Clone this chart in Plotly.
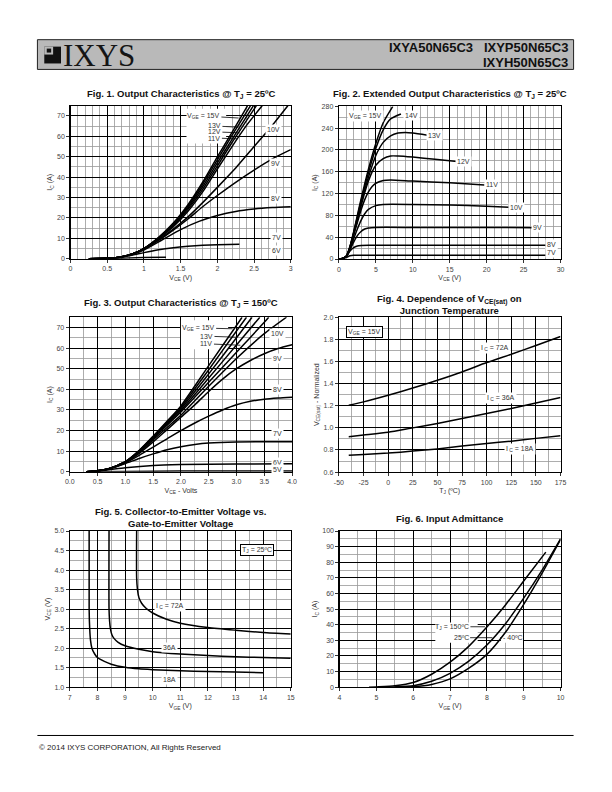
import plotly.graph_objects as go

W, H = 612, 792

# ---------------- DATA ----------------
# Fig 1: Output characteristics @ 25C  (VCE [V], IC [A])
f1_vce_15 = [0.25, 0.5, 0.7, 0.85, 1.0, 1.2, 1.4, 1.6, 1.8, 2.0, 2.2, 2.41]
f1_ic_15 = [0, 0.2, 1.0, 2.5, 5.0, 10.5, 17.5, 26.5, 37.5, 50, 62, 75]
f1_vce_14 = [0.25, 0.5, 0.7, 0.85, 1.0, 1.2, 1.4, 1.6, 1.8, 2.0, 2.2, 2.45]
f1_ic_14 = [0, 0.2, 1.0, 2.5, 5.0, 10.3, 17, 25.8, 36.5, 48.5, 60.5, 75]
f1_vce_13 = [0.25, 0.5, 0.7, 0.85, 1.0, 1.2, 1.4, 1.6, 1.8, 2.0, 2.2, 2.49]
f1_ic_13 = [0, 0.2, 1.0, 2.5, 5.0, 10.1, 16.6, 25, 35.3, 47, 58.5, 75]
f1_vce_12 = [0.25, 0.5, 0.7, 0.85, 1.0, 1.2, 1.4, 1.6, 1.8, 2.0, 2.2, 2.53]
f1_ic_12 = [0, 0.2, 1.0, 2.5, 5.0, 10, 16.2, 24.2, 34, 45.5, 57, 75]
f1_vce_11 = [0.25, 0.5, 0.7, 0.85, 1.0, 1.2, 1.4, 1.6, 1.8, 2.0, 2.2, 2.4, 2.61]
f1_ic_11 = [0, 0.2, 1.0, 2.5, 5.0, 9.8, 15.7, 23.3, 32.8, 44, 55, 65.5, 75]
f1_vce_10 = [0.25, 0.5, 0.7, 0.85, 1.0, 1.2, 1.4, 1.6, 1.8, 2.0, 2.25, 2.5, 2.75, 2.96]
f1_ic_10 = [0, 0.2, 1.0, 2.4, 4.9, 9.3, 14.5, 20.5, 27.5, 35, 44.5, 55, 65.5, 75]
f1_vce_9 = [0.25, 0.5, 0.7, 0.85, 1.0, 1.2, 1.4, 1.6, 1.8, 2.0, 2.25, 2.5, 2.75, 3.0]
f1_ic_9 = [0, 0.2, 1.0, 2.4, 4.8, 9.0, 14, 19.5, 25.5, 31, 37.5, 43.5, 49, 53.5]
f1_vce_8 = [0.25, 0.5, 0.7, 0.85, 1.0, 1.25, 1.5, 1.75, 2.0, 2.25, 2.5, 2.75, 3.0]
f1_ic_8 = [0, 0.2, 0.9, 2.2, 4.3, 9.3, 14.3, 18.3, 21.2, 23.2, 24.4, 25.1, 25.5]
f1_vce_7 = [0.25, 0.5, 0.7, 0.85, 1.0, 1.2, 1.4, 1.6, 1.8, 2.0, 2.3]
f1_ic_7 = [0, 0.2, 0.8, 1.8, 3.0, 4.4, 5.4, 6.1, 6.6, 6.9, 7.1]
f1_vce_6 = [0.25, 0.6, 0.8, 1.0, 1.3]
f1_ic_6 = [0, 0.2, 0.4, 0.55, 0.7]

# Fig 2: Extended output characteristics @ 25C
f2_vce_15 = [0, 0.5, 1, 1.5, 2, 2.5, 3, 4, 5, 6, 7.3]
f2_ic_15 = [0, 1, 5, 23, 50, 80, 110, 165, 212, 250, 280]
f2_vce_14 = [0, 0.5, 1, 1.5, 2, 2.5, 3, 4, 5, 6, 7, 8.4]
f2_ic_14 = [0, 1, 5, 22.5, 48.5, 77, 106, 158, 203, 237, 257, 266]
f2_vce_13 = [0, 0.5, 1, 1.5, 2, 2.5, 3, 4, 5, 6, 7, 8, 9, 10, 12]
f2_ic_13 = [0, 1, 5, 22, 47, 74, 102, 150, 190, 214, 226, 231, 232, 231, 227]
f2_vce_12 = [0, 0.5, 1, 1.5, 2, 2.5, 3, 3.5, 4, 4.5, 5, 6, 7, 8, 10, 13, 16]
f2_ic_12 = [0, 1, 5, 21, 45.5, 71, 97, 122, 143, 160, 172, 184, 189, 189, 187, 183, 179]
f2_vce_11 = [0, 0.5, 1, 1.5, 2, 2.5, 3, 3.5, 4, 4.5, 5, 6, 7, 10, 15, 19.7]
f2_ic_11 = [0, 1, 5, 20, 44, 67, 90, 109, 123, 133, 139, 144, 145, 143, 140, 136]
f2_vce_10 = [0, 0.5, 1, 1.5, 2, 2.5, 3, 3.5, 4, 5, 6, 10, 15, 20, 23]
f2_ic_10 = [0, 1, 5, 18, 37, 55, 71, 83, 91, 98, 100, 100, 99, 97, 95]
f2_vce_9 = [0, 0.5, 1, 1.5, 2, 2.5, 3, 3.5, 4, 5, 10, 20, 26.5]
f2_ic_9 = [0, 1, 4.5, 17, 31, 43, 50.5, 55, 57, 58, 58, 57.8, 57.5]
f2_vce_8 = [0, 0.5, 1, 1.5, 2, 2.5, 3, 4, 28]
f2_ic_8 = [0, 1, 4.5, 14.5, 21, 24, 25, 25.5, 25.5]
f2_vce_7 = [0, 0.5, 1, 1.5, 2, 3, 28]
f2_ic_7 = [0, 0.8, 3, 6, 7, 7, 7]

# Fig 3: Output characteristics @ 150C
f3_vce_15 = [0.3, 0.5, 0.7, 1.0, 1.25, 1.5, 1.75, 2.0, 2.5, 3.0, 3.1]
f3_ic_15 = [0, 0.5, 1.5, 4.9, 10.4, 17.3, 24.5, 32, 51.5, 71, 75]
f3_vce_14 = [0.3, 0.5, 0.7, 1.0, 1.25, 1.5, 1.75, 2.0, 2.5, 3.0, 3.18]
f3_ic_14 = [0, 0.5, 1.5, 4.9, 10.3, 17.1, 24.2, 31.3, 49.5, 68.3, 75]
f3_vce_13 = [0.3, 0.5, 0.7, 1.0, 1.25, 1.5, 1.75, 2.0, 2.5, 3.0, 3.28]
f3_ic_13 = [0, 0.5, 1.5, 4.9, 10.2, 17, 23.8, 30.6, 47.5, 65, 75]
f3_vce_12 = [0.3, 0.5, 0.7, 1.0, 1.25, 1.5, 1.75, 2.0, 2.5, 3.0, 3.42]
f3_ic_12 = [0, 0.5, 1.5, 4.8, 10.0, 16.6, 23.2, 29.8, 45.5, 61.5, 75]
f3_vce_11 = [0.3, 0.5, 0.7, 1.0, 1.25, 1.5, 1.75, 2.0, 2.5, 3.0, 3.5, 3.58]
f3_ic_11 = [0, 0.5, 1.5, 4.8, 9.9, 16.2, 22.6, 29, 43.5, 58, 72.5, 75]
f3_vce_10 = [0.3, 0.5, 0.7, 1.0, 1.25, 1.5, 1.75, 2.0, 2.5, 3.0, 3.5, 3.9]
f3_ic_10 = [0, 0.5, 1.5, 4.7, 9.5, 15.5, 21.5, 27.5, 41.5, 55, 67, 75]
f3_vce_9 = [0.3, 0.5, 0.7, 1.0, 1.25, 1.5, 1.75, 2.0, 2.25, 2.5, 2.75, 3.0, 3.25, 3.5, 3.75, 4.0]
f3_ic_9 = [0, 0.5, 1.5, 4.6, 9, 14.5, 20.5, 26.5, 32.5, 39, 45, 50, 54, 57.3, 59.8, 61.6]
f3_vce_8 = [0.3, 0.5, 0.7, 1.0, 1.25, 1.5, 1.75, 2.0, 2.25, 2.5, 2.75, 3.0, 3.25, 3.5, 3.75, 4.0]
f3_ic_8 = [0, 0.5, 1.5, 4.3, 8, 12, 16, 20, 23.7, 27, 30, 32.5, 34.2, 35.2, 35.8, 36.2]
f3_vce_7 = [0.3, 0.5, 0.7, 1.0, 1.25, 1.5, 1.75, 2.0, 2.25, 2.5, 3.0, 4.0]
f3_ic_7 = [0, 0.5, 1.3, 4.0, 6.5, 8.7, 10.7, 12.2, 13.3, 14, 14.5, 14.6]
f3_vce_6 = [0.3, 0.5, 0.7, 1.0, 1.5, 2.0, 3.0, 4.0]
f3_ic_6 = [0, 0.4, 1.0, 2.0, 3.1, 3.5, 3.8, 3.9]
f3_vce_5 = [0.3, 1.0, 2.0, 4.0]
f3_ic_5 = [0, 0.2, 0.35, 0.45]

# Fig 4: VCE(sat) normalized vs TJ
f4_tj = [-40, -25, 0, 25, 50, 75, 100, 125, 150, 175]
f4_72a = [1.205, 1.235, 1.295, 1.36, 1.43, 1.505, 1.59, 1.665, 1.745, 1.825]
f4_36a = [0.92, 0.935, 0.96, 1.0, 1.04, 1.085, 1.13, 1.175, 1.225, 1.275]
f4_18a = [0.752, 0.76, 0.772, 0.79, 0.81, 0.835, 0.858, 0.88, 0.905, 0.928]
f4_tick_vals = [-50, -25, 0, 25, 50, 75, 100, 125, 150, 175]
f4_tick_text = ["-50", "-25", "0", "25", "50", "75", "100", "125", "150", "175"]

# Fig 5: VCE vs VGE @ 25C
f5_vge_18a = [7.70, 7.70, 7.72, 7.75, 7.8, 7.9, 8.0, 8.25, 8.5, 9.0, 9.5, 10, 11, 12, 13, 14]
f5_vce_18a = [5.0, 3.0, 2.5, 2.2, 2.0, 1.85, 1.76, 1.66, 1.59, 1.51, 1.47, 1.45, 1.42, 1.40, 1.39, 1.37]
f5_vge_36a = [8.42, 8.42, 8.44, 8.47, 8.52, 8.6, 8.75, 9.0, 9.5, 10, 11, 12, 13, 14, 15]
f5_vce_36a = [5.0, 3.0, 2.7, 2.5, 2.35, 2.25, 2.15, 2.06, 1.97, 1.91, 1.85, 1.81, 1.78, 1.76, 1.74]
f5_vge_72a = [9.42, 9.42, 9.45, 9.5, 9.6, 9.75, 10, 10.5, 11, 12, 13, 14, 15]
f5_vce_72a = [5.0, 3.8, 3.5, 3.3, 3.15, 3.03, 2.9, 2.74, 2.64, 2.53, 2.46, 2.40, 2.36]

# Fig 6: Input admittance
f6_vge_150 = [4.8, 5.0, 5.5, 6.0, 6.5, 7.0, 7.5, 8.0, 8.5, 9.0, 9.6]
f6_ic_150 = [0, 0.2, 0.9, 3.0, 8.3, 16, 26, 38.5, 52.5, 68, 86.5]
f6_vge_25 = [5.2, 5.5, 6.0, 6.5, 7.0, 7.5, 8.0, 8.5, 9.0, 9.5, 10.0]
f6_ic_25 = [0, 0.2, 1.0, 3.8, 8.9, 16.5, 27, 40.5, 57, 75, 95]
f6_vge_m40 = [5.6, 6.0, 6.5, 7.0, 7.5, 8.0, 8.5, 9.0, 9.5, 10.0]
f6_ic_m40 = [0, 0.3, 1.8, 5.3, 12, 21, 35, 53, 73, 94.5]

# ---------------- HELPERS ----------------
def px(x):
    return x / W

def py(y):
    return 1 - y / H

NARROW = "Liberation Sans Narrow, Arial Narrow, Liberation Sans, Arial"
TICKF = dict(family=NARROW, size=7, color="#444")
LBLF = dict(family=NARROW, size=7, color="#333")
TITF = dict(family=NARROW, size=9.5, color="#111")

fig = go.Figure()

def axis(dom, rng, dtick, minor, title, anchor, fmt=None, standoff=3):
    d = dict(domain=dom, range=rng, dtick=dtick, tick0=rng[0], anchor=anchor,
             showgrid=True, gridcolor="#000", gridwidth=1,
             minor=dict(dtick=minor, tick0=rng[0], showgrid=True, gridcolor="#999", gridwidth=0.8, ticks=""),
             showline=True, linecolor="#000", linewidth=1.2, mirror=True,
             ticks="outside", ticklen=3, tickcolor="#000", tickwidth=0.8,
             tickfont=TICKF, zeroline=False, fixedrange=True,
             title=dict(text=title, font=LBLF, standoff=standoff))
    if fmt:
        d["tickformat"] = fmt
    return d

def curve(n, xs, ys, w=1.5):
    fig.add_trace(go.Scatter(x=xs, y=ys, mode="lines", line=dict(color="#000", width=w, shape="spline", smoothing=0.6),
                             xaxis="x" if n == 1 else f"x{n}", yaxis="y" if n == 1 else f"y{n}",
                             showlegend=False, hoverinfo="skip"))

annots = []
shapes = []

def ref(n):
    return ("x" if n == 1 else f"x{n}"), ("y" if n == 1 else f"y{n}")

def lbl(n, x, y, text, bg=True, xanchor="center", border=False):
    xr, yr = ref(n)
    a = dict(x=x, y=y, xref=xr, yref=yr, text=text, showarrow=False, font=LBLF,
             xanchor=xanchor, yanchor="middle", borderpad=1)
    if bg:
        a["bgcolor"] = "white"
    if border:
        a["bordercolor"] = "#000"
        a["borderwidth"] = 1
    annots.append(a)

def leader(n, tx, ty, hx, hy, text):
    xr, yr = ref(n)
    annots.append(dict(x=hx, y=hy, xref=xr, yref=yr, ax=tx, ay=ty, axref=xr, ayref=yr,
                       text=text, showarrow=True, arrowhead=0, arrowwidth=0.8, arrowcolor="#000",
                       font=LBLF, standoff=0, startstandoff=0))

def whitebox(n, x0, x1, y0, y1):
    xr, yr = ref(n)
    shapes.append(dict(type="rect", xref=xr, yref=yr, x0=x0, x1=x1, y0=y0, y1=y1,
                       fillcolor="white", line=dict(width=0), layer="between"))

def title(cx, cy, text):
    annots.append(dict(x=px(cx), y=py(cy), xref="paper", yref="paper", text=text, showarrow=False,
                       font=TITF, xanchor="center", yanchor="middle", align="center"))

# ---------------- AXES ----------------
lay = {}
lay["xaxis"] = axis([px(66.7), px(291)], [0, 3], 0.5, 0.1, "V<sub>CE</sub> (V)", "y")
lay["yaxis"] = axis([py(257), py(102.7)], [0, 75], 10, 5, "I<sub>C</sub> (A)", "x")
lay["xaxis2"] = axis([px(340), px(565.7)], [0, 30], 5, 1, "V<sub>CE</sub> (V)", "y2")
lay["yaxis2"] = axis([py(257.3), py(103.3)], [0, 280], 40, 20, "I<sub>C</sub> (A)", "x2")
lay["xaxis3"] = axis([px(66), px(292.3)], [0, 4], 0.5, 0.25, "V<sub>CE</sub> - Volts", "y3", fmt=".1f")
lay["yaxis3"] = axis([py(472), py(316)], [0, 75], 10, 5, "I<sub>C</sub> (A)", "x3")
lay["xaxis4"] = axis([px(340), px(565.7)], [-50, 175], 25, 12.5, "T<sub>J</sub> (ºC)", "y4")
lay["yaxis4"] = axis([py(472.3), py(316)], [0.6, 2.0], 0.2, 0.1, "V<sub>CE(sat)</sub> - Normalized", "x4", fmt=".1f")
lay["xaxis5"] = axis([px(66), px(291)], [7, 15], 1, 0.5, "V<sub>GE</sub> (V)", "y5")
lay["yaxis5"] = axis([py(689.3), py(531.7)], [1.0, 5.0], 0.5, 0.25, "V<sub>CE</sub> (V)", "x5", fmt=".1f")
lay["xaxis6"] = axis([px(340.7), px(565.7)], [4, 10], 1, 0.5, "V<sub>GE</sub> (V)", "y6")
lay["yaxis6"] = axis([py(689.3), py(531.7)], [0, 100], 10, 5, "I<sub>C</sub> (A)", "x6")
lay["xaxis4"]["tickvals"] = f4_tick_vals
lay["xaxis4"]["ticktext"] = f4_tick_text

# ---------------- CURVES ----------------
for xs, ys in [(f1_vce_15, f1_ic_15), (f1_vce_14, f1_ic_14), (f1_vce_13, f1_ic_13), (f1_vce_12, f1_ic_12),
               (f1_vce_11, f1_ic_11), (f1_vce_10, f1_ic_10), (f1_vce_9, f1_ic_9), (f1_vce_8, f1_ic_8),
               (f1_vce_7, f1_ic_7), (f1_vce_6, f1_ic_6)]:
    curve(1, xs, ys)
for xs, ys in [(f2_vce_15, f2_ic_15), (f2_vce_14, f2_ic_14), (f2_vce_13, f2_ic_13), (f2_vce_12, f2_ic_12),
               (f2_vce_11, f2_ic_11), (f2_vce_10, f2_ic_10), (f2_vce_9, f2_ic_9), (f2_vce_8, f2_ic_8),
               (f2_vce_7, f2_ic_7)]:
    curve(2, xs, ys)
for xs, ys in [(f3_vce_15, f3_ic_15), (f3_vce_14, f3_ic_14), (f3_vce_13, f3_ic_13), (f3_vce_12, f3_ic_12),
               (f3_vce_11, f3_ic_11), (f3_vce_10, f3_ic_10), (f3_vce_9, f3_ic_9), (f3_vce_8, f3_ic_8),
               (f3_vce_7, f3_ic_7), (f3_vce_6, f3_ic_6), (f3_vce_5, f3_ic_5)]:
    curve(3, xs, ys)
for ys in [f4_72a, f4_36a, f4_18a]:
    curve(4, f4_tj, ys)
for xs, ys in [(f5_vge_18a, f5_vce_18a), (f5_vge_36a, f5_vce_36a), (f5_vge_72a, f5_vce_72a)]:
    curve(5, xs, ys)
for xs, ys in [(f6_vge_150, f6_ic_150), (f6_vge_25, f6_ic_25), (f6_vge_m40, f6_ic_m40)]:
    curve(6, xs, ys)

# ---------------- LABELS ----------------
# Fig 1
whitebox(1, 1.58, 2.12, 56.5, 73.5)
leader(1, 1.81, 70, 2.29, 69, "V<sub>GE</sub> = 15V")
leader(1, 1.96, 65.1, 2.29, 64.5, "13V")
leader(1, 1.96, 62.2, 2.28, 61.8, "12V")
leader(1, 1.96, 59.2, 2.27, 58.8, "11V")
lbl(1, 2.77, 63.2, "10V")
lbl(1, 2.79, 46.7, "9V")
lbl(1, 2.79, 29.5, "8V")
lbl(1, 2.8, 10.5, "7V")
lbl(1, 2.8, 4.0, "6V")
# Fig 2
lbl(2, 3.6, 263, "V<sub>GE</sub> = 15V")
lbl(2, 9.8, 264, "14V")
lbl(2, 12.9, 227, "13V")
lbl(2, 16.9, 178, "12V")
lbl(2, 20.7, 136, "11V")
lbl(2, 24.0, 95, "10V")
lbl(2, 26.9, 57.5, "9V")
lbl(2, 28.8, 26, "8V")
lbl(2, 28.8, 12, "7V")
# Fig 3
whitebox(3, 2.0, 2.85, 59.5, 73.5)
leader(3, 2.31, 69.8, 2.93, 69.4, "V<sub>GE</sub> = 15V")
leader(3, 2.46, 65.8, 3.0, 65.3, "13V")
leader(3, 2.46, 62.1, 3.07, 61.4, "11V")
lbl(3, 3.73, 67.3, "10V")
lbl(3, 3.73, 54.9, "9V")
lbl(3, 3.73, 39.9, "8V")
lbl(3, 3.73, 18.7, "7V")
lbl(3, 3.73, 4.6, "6V")
lbl(3, 3.73, 0.9, "5V")
# Fig 4
lbl(4, -23.5, 1.87, "V<sub>GE</sub> = 15V", border=True)
lbl(4, 108.5, 1.725, "I<sub> C</sub> = 72A")
lbl(4, 114.5, 1.27, "I<sub> C</sub> = 36A")
lbl(4, 133.4, 0.806, "I<sub> C</sub> = 18A")
# Fig 5
lbl(5, 13.78, 4.51, "T<sub>J</sub> = 25ºC", border=True)
lbl(5, 10.64, 3.08, "I<sub> C</sub> = 72A")
lbl(5, 10.61, 2.01, "36A")
lbl(5, 10.61, 1.21, "18A")
# Fig 6
whitebox(6, 6.6, 7.75, 28.5, 41.5)
whitebox(6, 8.38, 8.98, 28.5, 34.5)
leader(6, 7.05, 38.7, 7.95, 38.7, "T<sub>J</sub> = 150ºC")
leader(6, 7.3, 31.7, 8.15, 31.7, "25ºC")
leader(6, 8.7, 31.7, 8.36, 31.7, "- 40ºC")

# ---------------- TITLES ----------------
title(179, 91, "<b>Fig. 1. Output Characteristics @ T<sub>J</sub> = 25ºC</b>")
title(453, 91, "<b>Fig. 2. Extended Output Characteristics @ T<sub>J</sub> = 25ºC</b>")
title(179, 302, "<b>Fig. 3. Output Characteristics @ T<sub>J</sub> = 150ºC</b>")
title(453, 303, "<b>Fig. 4. Dependence of V<sub>CE(sat)</sub> on<br>Junction Temperature</b>")
title(179, 518, "<b>Fig. 5. Collector-to-Emitter Voltage vs.<br>Gate-to-Emitter Voltage</b>")
title(453, 519, "<b>Fig. 6. Input Admittance</b>")

# ---------------- HEADER / FOOTER ----------------
shapes.append(dict(type="rect", xref="paper", yref="paper", x0=px(33), x1=px(579), y0=py(66), y1=py(36),
                   fillcolor="#b9b9b9", line=dict(color="#222", width=1), layer="above"))
shapes.append(dict(type="rect", xref="paper", yref="paper", x0=px(40), x1=px(57), y0=py(60), y1=py(43),
                   fillcolor="#111", line=dict(width=0), layer="above"))
shapes.append(dict(type="rect", xref="paper", yref="paper", x0=px(40), x1=px(49), y0=py(51), y1=py(43),
                   fillcolor="#b9b9b9", line=dict(width=0), layer="above"))
shapes.append(dict(type="rect", xref="paper", yref="paper", x0=px(42.5), x1=px(47), y0=py(49), y1=py(45),
                   fillcolor="#111", line=dict(width=0), layer="above"))
shapes.append(dict(type="line", xref="paper", yref="paper", x0=px(33), x1=px(579), y0=py(738), y1=py(738),
                   line=dict(color="#000", width=1)))
annots.append(dict(x=px(57), y=py(52), xref="paper", yref="paper", text="IXYS", showarrow=False,
                   font=dict(family="Liberation Serif, DejaVu Serif, serif", size=31, color="#151515"),
                   xanchor="left", yanchor="middle"))
annots.append(dict(x=px(575), y=py(44), xref="paper", yref="paper", text="<b>IXYA50N65C3   IXYP50N65C3</b>",
                   showarrow=False, font=dict(family="Liberation Sans, Arial", size=13, color="#111"),
                   xanchor="right", yanchor="middle"))
annots.append(dict(x=px(575), y=py(59), xref="paper", yref="paper", text="<b>IXYH50N65C3</b>",
                   showarrow=False, font=dict(family="Liberation Sans, Arial", size=13, color="#111"),
                   xanchor="right", yanchor="middle"))
annots.append(dict(x=px(33), y=py(750), xref="paper", yref="paper",
                   text="© 2014 IXYS CORPORATION, All Rights Reserved", showarrow=False,
                   font=dict(family="Liberation Sans, Arial", size=8, color="#222"),
                   xanchor="left", yanchor="middle"))

fig.update_layout(width=W, height=H, margin=dict(l=0, r=0, t=0, b=0), paper_bgcolor="white",
                  plot_bgcolor="white", showlegend=False, annotations=annots, shapes=shapes, **lay)

fig.write_html("out.html", config={"displayModeBar": False, "staticPlot": True},
               post_script="document.body.style.margin='0';document.body.style.padding='0';"
                           "document.documentElement.style.overflow='hidden';")
